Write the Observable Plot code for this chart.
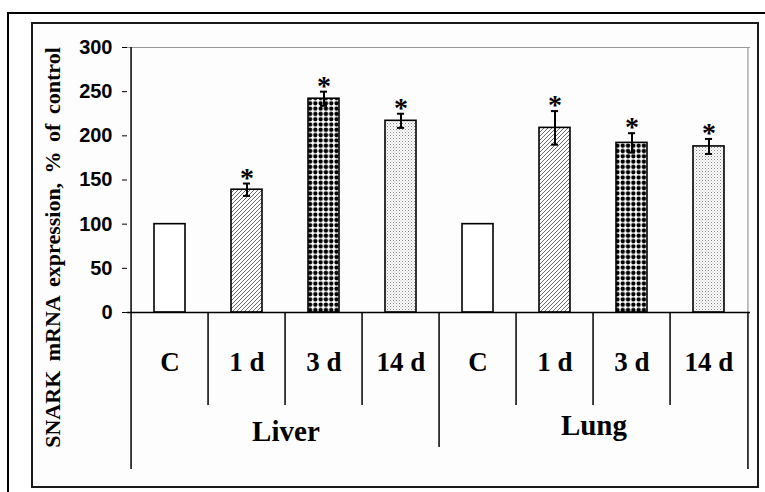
<!DOCTYPE html>
<html><head><meta charset="utf-8">
<script src="https://cdn.jsdelivr.net/npm/d3@7"></script>
<script src="https://cdn.jsdelivr.net/npm/@observablehq/plot@0.6"></script>
<style>
html,body{margin:0;padding:0;background:#fff;}
#wrap{position:relative;width:765px;height:492px;overflow:hidden;background:#fff;}
#outer{position:absolute;left:7px;top:12px;width:800px;height:600px;border-top:2.5px solid #000;border-left:2.5px solid #000;}
#inner{position:absolute;left:31px;top:22px;width:724px;height:462px;border:2px solid #1a1a1a;background:#fdfdfd;}
#chart{position:absolute;left:0;top:0;}
#chart svg g[aria-label="y-axis"] text, #chart svg g[aria-label="y-axis tick label"] text{font-size:20px;font-weight:bold;font-family:'Liberation Sans',Arial,sans-serif;}
</style></head>
<body><div id="wrap"><div id="outer"></div><div id="inner"></div><div id="chart"></div>
<svg width="0" height="0" style="position:absolute;left:0;top:0"><defs>
<pattern id="hatch" patternUnits="userSpaceOnUse" width="4" height="4"><rect width="4" height="4" fill="#fff"/><path d="M-1,1 L1,-1 M0,4 L4,0 M3,5 L5,3" stroke="#444" stroke-width="0.8"/></pattern>
<pattern id="dots" patternUnits="userSpaceOnUse" width="5.3" height="5.3"><rect width="5.3" height="5.3" fill="#fff"/><circle cx="2.65" cy="2.65" r="2.2" fill="#000"/></pattern>
<pattern id="stipple" patternUnits="userSpaceOnUse" width="3" height="3"><rect width="3" height="3" fill="#fff"/><rect x="0" y="0" width="1" height="1" fill="#888"/><rect x="1.5" y="1.5" width="1" height="1" fill="#aaa"/></pattern>
</defs></svg>
</div>
<script>
const tissues = ["Liver","Liver","Liver","Liver","Lung","Lung","Lung","Lung"];
const times = ["C","1 d","3 d","14 d","C","1 d","3 d","14 d"];
const values = [100,139,242,217,100,209,192,188];
const errors = [0,7,8,8,0,19,11,8.5];
const significant = [false,true,true,true,false,true,true,true];
const groups = ["Liver","Lung"];
const yTicks = [0,50,100,150,200,250,300];
const yLabel = "SNARK mRNA expression, % of control";
const fills = {"C":"#fff","1 d":"url(#hatch)","3 d":"url(#dots)","14 d":"url(#stipple)"};

const rows = times.map((t,i)=>({key: tissues[i]+" "+t, tissue: tissues[i], time: t, value: values[i], err: errors[i], sig: significant[i]}));
const keys = rows.map(d=>d.key);

const W=765,H=492,ML=127,MR=15,MT=47,MB=180;
const step=(W-ML-MR)/keys.length;
const serif = "'Liberation Serif','Times New Roman',serif";
const tbl = {fontFamily: serif, fontWeight:"bold", textAnchor:"middle", lineAnchor:"middle", fill:"#000"};

const marks = [
  Plot.ruleY([300], {stroke:"#999", strokeWidth:1.2}),
  Plot.ruleX([keys[keys.length-1]], {dx: step/2, y1: 300, y2: 0, stroke:"#999", strokeWidth:1.2}),
  Plot.ruleX([keys[keys.length-1]], {dx: step/2, y1: 0, y2: 0, insetBottom: -157, stroke:"#000", strokeWidth:1.5}),
  Plot.ruleX([keys[0]], {dx: -step/2, y1: 300, y2: 0, insetBottom: -157, stroke:"#000", strokeWidth:1.5}),
  Plot.ruleX(keys.filter((k,i)=> i%4!==0), {dx: -step/2, y1: 0, y2: 0, insetBottom: -93, stroke:"#000", strokeWidth:1.5}),
  Plot.ruleX([keys[4]], {dx: -step/2, y1: 0, y2: 0, insetBottom: -135, stroke:"#000", strokeWidth:1.5}),
];
for (const t of ["C","1 d","3 d","14 d"]) {
  marks.push(Plot.barY(rows.filter(d=>d.time===t), {x:"key", y:"value", fill: fills[t], stroke:"#000", strokeWidth:1.6, insetLeft:23, insetRight:23}));
}
const er = rows.filter(d=>d.err>0);
marks.push(
  Plot.ruleY([0], {stroke:"#000", strokeWidth:1.6}),
  Plot.ruleX(er, {x:"key", y1: d=>d.value-d.err, y2: d=>d.value+d.err, stroke:"#000", strokeWidth:2}),
  Plot.tickY(er, {x:"key", y: d=>d.value+d.err, insetLeft: step/2-4, insetRight: step/2-4, stroke:"#000", strokeWidth:2}),
  Plot.tickY(er, {x:"key", y: d=>d.value-d.err, insetLeft: step/2-4, insetRight: step/2-4, stroke:"#000", strokeWidth:2}),
  Plot.text(rows.filter(d=>d.sig), {x:"key", y: d=>d.value+d.err, text: ()=>"*", dy:-6, fontSize:28, ...tbl}),
  Plot.text(rows, {x:"key", text:"time", frameAnchor:"bottom", dy:50, fontSize:27, ...tbl}),
  Plot.text([groups[0]], {x: ()=>keys[1], text: d=>d, frameAnchor:"bottom", dx: step/2, dy:119, fontSize:29, ...tbl}),
  Plot.text([groups[1]], {x: ()=>keys[5], text: d=>d, frameAnchor:"bottom", dx: step/2, dy:113, fontSize:29, ...tbl}),
  Plot.text([yLabel], {frameAnchor:"left", rotate:-90, dx:-75, dy:67.5, fontSize:22, ...tbl})
);

const chart = Plot.plot({
  width: W, height: H, marginLeft: ML, marginRight: MR, marginTop: MT, marginBottom: MB,
  style: {background:"transparent", color:"#000", fontFamily:"'Liberation Sans',Arial,sans-serif", fontSize:"20px", fontWeight:"bold", overflow:"visible"},
  x: {type:"band", domain: keys, padding: 0, axis: null},
  y: {domain:[0,300], ticks: yTicks, tickSize: 5, tickPadding: 10, label: null},
  marks
});
chart.querySelectorAll("text").forEach(t => { if (t.textContent === yLabel) t.style.wordSpacing = "4px"; });
document.getElementById("chart").appendChild(chart);
</script>
</body></html>
